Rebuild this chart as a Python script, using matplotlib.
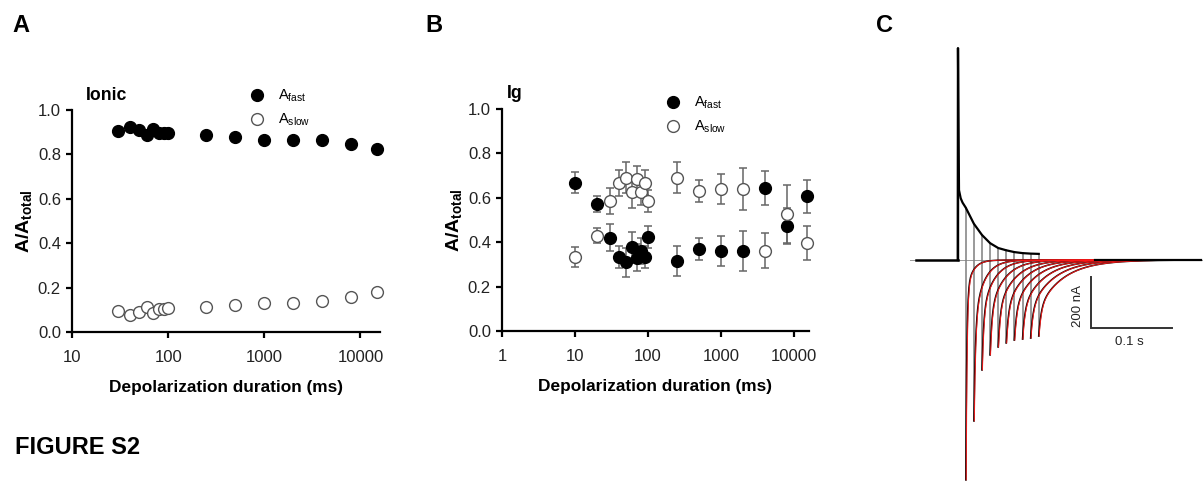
import matplotlib
matplotlib.use('Agg')
import matplotlib.pyplot as plt
from matplotlib.lines import Line2D
import numpy as np

plt.rcParams['font.family'] = ['Liberation Sans', 'DejaVu Sans']
plt.rcParams['mathtext.fontset'] = 'custom'
plt.rcParams['mathtext.rm'] = 'Liberation Sans'
plt.rcParams['mathtext.bf'] = 'Liberation Sans:bold'
plt.rcParams['mathtext.it'] = 'Liberation Sans:italic'

# panel A: ionic current amplitudes
ionic_ms = [30, 40, 50, 60, 70, 80, 90, 100, 250, 500, 1000, 2000, 4000, 8000, 15000]
ionic_fast = [0.905, 0.925, 0.91, 0.887, 0.913, 0.898, 0.895, 0.895, 0.887, 0.88,
              0.865, 0.865, 0.865, 0.845, 0.823]
ionic_slow = [0.093, 0.075, 0.09, 0.113, 0.087, 0.105, 0.105, 0.108, 0.113, 0.12,
              0.132, 0.132, 0.138, 0.158, 0.18]

# panel B: gating current amplitudes (mean +/- sem)
ig_ms = [10, 20, 30, 40, 50, 60, 70, 80, 90, 100, 250, 500, 1000, 2000, 4000, 8000, 15000]
ig_fast = [0.667, 0.573, 0.42, 0.332, 0.31, 0.377, 0.33, 0.36, 0.332, 0.422,
           0.314, 0.37, 0.362, 0.362, 0.644, 0.472, 0.606]
ig_fast_err = [0.047, 0.035, 0.06, 0.05, 0.065, 0.07, 0.06, 0.06, 0.05, 0.05,
               0.068, 0.05, 0.067, 0.09, 0.078, 0.08, 0.075]
ig_slow = [0.332, 0.43, 0.584, 0.667, 0.69, 0.625, 0.686, 0.626, 0.668, 0.584,
           0.69, 0.63, 0.64, 0.64, 0.362, 0.528, 0.397]
ig_slow_err = [0.045, 0.035, 0.058, 0.06, 0.07, 0.07, 0.055, 0.06, 0.055, 0.05,
               0.07, 0.05, 0.067, 0.093, 0.078, 0.13, 0.075]

yticks = [0.0, 0.2, 0.4, 0.6, 0.8, 1.0]
xticks_a = [10, 100, 1000, 10000]
xticks_b = [1, 10, 100, 1000, 10000]

# panel C: current traces (ms, nA)
on_t = [0, 0.3, 1.6, 3.7, 6, 10, 20, 30, 40, 50, 60, 70, 80, 90, 100]
on_nA = [0, 831, 274, 242, 225, 205, 142, 98, 66, 47, 38, 31, 27, 25, 24]
step_ms = [10, 20, 30, 40, 50, 60, 70, 80, 90, 100]
tail_peak = [862, 631, 431, 372, 341, 325, 314, 310, 306, 298]
tail_ffast = [0.85, 0.62, 0.52, 0.47, 0.44, 0.42, 0.40, 0.39, 0.38, 0.37]
tail_tfast = [1.2, 1.8, 2.0, 2.3, 2.5, 2.7, 2.8, 2.9, 3.0, 3.0]
tail_tslow = [8, 12, 15, 18, 21, 23, 25, 27, 29, 31]
scale_ms = 100
scale_nA = 200

W, H = 1203, 487
fig = plt.figure(figsize=(W / 100, H / 100), dpi=100)


def fx(px):
    return px / W


def fy(py):
    return 1 - py / H


def style_axes(ax, xticks):
    ax.set_xscale('log')
    ax.set_ylim(0, 1.0)
    for s in ['top', 'right']:
        ax.spines[s].set_visible(False)
    for s in ['left', 'bottom']:
        ax.spines[s].set_linewidth(1.6)
    ax.set_yticks(yticks)
    ax.set_yticklabels(['%.1f' % v for v in yticks])
    ax.set_xticks(xticks)
    ax.set_xticklabels([str(v) for v in xticks])
    ax.minorticks_off()
    ax.tick_params(direction='out', length=4, width=1.6, labelsize=12,
                   labelcolor='#222222', pad=4)
    ax.tick_params(axis='x', pad=9)
    ax.set_xlabel('Depolarization duration (ms)', fontsize=12.4, fontweight='bold', labelpad=11)
    ax.set_ylabel(r'$\mathbf{A/A_{total}}$', fontsize=14, labelpad=3)


fast_kw = dict(marker='o', ls='', ms=8.5, mfc='black', mec='black', mew=1.0)
slow_kw = dict(marker='o', ls='', ms=8.5, mfc='white', mec='#555555', mew=1.0)

# ---- panel A
axA = fig.add_axes([fx(72), fy(332), fx(380 - 72), (332 - 110) / H])
axA.plot(ionic_ms, ionic_fast, zorder=3, clip_on=False, **fast_kw)
axA.plot(ionic_ms, ionic_slow, zorder=3, clip_on=False, **slow_kw)
axA.set_xlim(10, 16000)
style_axes(axA, xticks_a)

# ---- panel B
axB = fig.add_axes([fx(502), fy(331), fx(809 - 502), (331 - 109) / H])
for vals, errs in [(ig_fast, ig_fast_err), (ig_slow, ig_slow_err)]:
    eb = axB.errorbar(ig_ms, vals, yerr=errs, fmt='none', ecolor='#666666',
                      elinewidth=1.1, capsize=3, capthick=1.1, zorder=2)
    for art in eb.lines[1] + eb.lines[2]:
        art.set_clip_on(False)
axB.plot(ig_ms, ig_fast, zorder=3, clip_on=False, **fast_kw)
axB.plot(ig_ms, ig_slow, zorder=4, clip_on=False, **slow_kw)
axB.set_xlim(1, 16000)
style_axes(axB, xticks_b)

handles = [Line2D([], [], **fast_kw), Line2D([], [], **slow_kw)]
labels = [r'A$_{\rm fast}$', r'A$_{\rm slow}$']
for ax, (lx, ly) in [(axA, (250, 88)), (axB, (666, 95))]:
    ax.legend(handles, labels, loc='upper left', bbox_to_anchor=(fx(lx), fy(ly)),
              bbox_transform=fig.transFigure, frameon=False, fontsize=10.5,
              handlelength=1.0, handletextpad=0.9, labelspacing=0.5,
              borderpad=0, borderaxespad=0, numpoints=1)

fig.text(fx(86), fy(96), 'Ionic', fontsize=12.7, fontweight='bold', va='center', ha='left')
fig.text(fx(507), fy(93), 'Ig', fontsize=12.7, fontweight='bold', va='center', ha='left')

# ---- panel C
px_per_ms = 0.81
nA_per_px = 200 / 51.0
onset_px = 957.7
base_py = 260
axC = fig.add_axes([fx(905), 0, fx(1203 - 905), (487 - 40) / H])
axC.set_xlim((905 - onset_px) / px_per_ms, (1203 - onset_px) / px_per_ms)
axC.set_ylim(-(487 - base_py) * nA_per_px, (base_py - 40) * nA_per_px)
axC.axis('off')

t_end = 300
axC.plot([(910 - onset_px) / px_per_ms, t_end + 5], [0, 0], color='#999999', lw=0.7, zorder=1)
axC.plot([-52, 0], [0, 0], color='black', lw=1.8, zorder=3)
axC.plot(on_t, on_nA, color='black', lw=1.6, zorder=3)
axC.plot([0, 0], [0, on_nA[1]], color='black', lw=1.0, zorder=3)

on_at_end = on_nA[5:]
for k, ts in enumerate(step_ms):
    tt = np.linspace(0, t_end - ts, 600)
    cur = -tail_peak[k] * (tail_ffast[k] * np.exp(-tt / tail_tfast[k])
                           + (1 - tail_ffast[k]) * np.exp(-tt / tail_tslow[k]))
    axC.plot([ts, ts], [on_at_end[k], -tail_peak[k]], color='#7f7f7f', lw=1.1, zorder=2)
    axC.plot(ts + tt, cur, color='black', lw=1.1, zorder=3)
    axC.plot(ts + tt + 0.5, cur, color='#ff1a1a', lw=0.75, alpha=0.9, zorder=4)
# settled baseline after the tails
axC.plot([170, t_end], [0, 0], color='black', lw=1.6, zorder=5)

sb_x = (1091 - onset_px) / px_per_ms
sb_top = -(276.7 - base_py) * nA_per_px
axC.plot([sb_x, sb_x, sb_x + scale_ms], [sb_top, sb_top - scale_nA, sb_top - scale_nA],
         color='#333333', lw=1.4, solid_joinstyle='miter')
fig.text(fx(1078), fy(306), '%d nA' % scale_nA, rotation=90, fontsize=9.5,
         ha='center', va='center', color='#222222')
fig.text(fx(1129), fy(342), '0.1 s', fontsize=9.5, ha='center', va='center', color='#222222')

# ---- panel letters
fig.text(fx(12), fy(26), 'A', fontsize=17, fontweight='bold', va='center', ha='left')
fig.text(fx(425), fy(26), 'B', fontsize=17, fontweight='bold', va='center', ha='left')
fig.text(fx(876), fy(26), 'C', fontsize=17, fontweight='bold', va='center', ha='left')
fig.text(fx(15), fy(448), 'FIGURE S2', fontsize=17, fontweight='bold', va='center', ha='left')

fig.savefig('out.png', dpi=100)
